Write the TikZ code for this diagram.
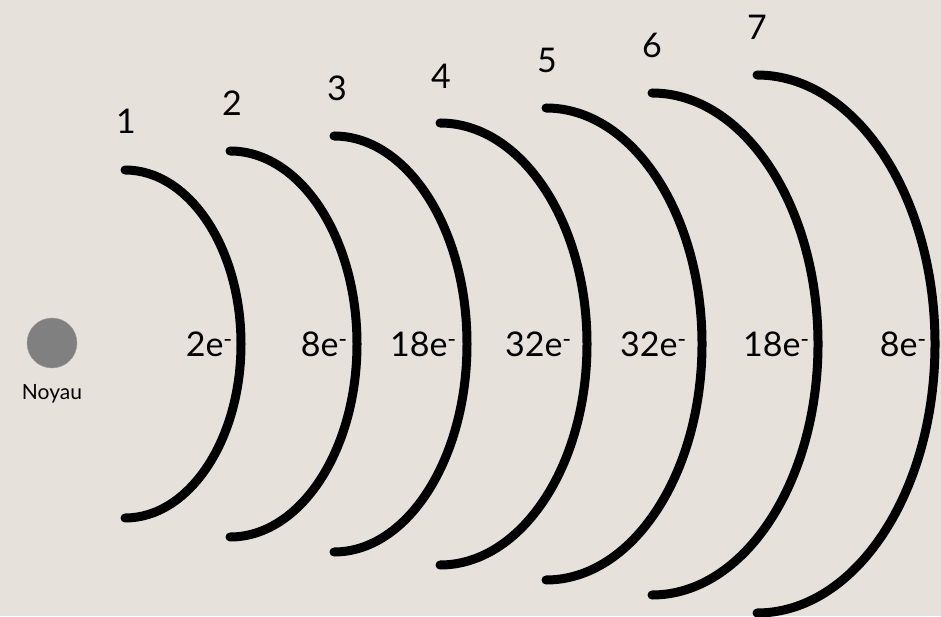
\documentclass[tikz,border=0pt]{standalone}
\usepackage{fontspec}
\setmainfont{Lato}
\usepackage{tikz}
\usepackage{xcolor}
\definecolor{fond}{HTML}{E6E2DB}
\definecolor{noyaugris}{HTML}{808080}

\begin{document}
\begin{tikzpicture}[x=1pt,y=1pt,
  couche/.style={line width=9pt,line cap=round,black},
  num/.style={font=\fontsize{34}{39}\selectfont},
  elec/.style={font=\fontsize{34}{39}\selectfont,anchor=east,inner sep=0pt}]
\fill[fond](0,0)rectangle(941,616);
\useasboundingbox(0,0)rectangle(941,616);
\node[circle,fill=noyaugris,draw=noyaugris!80!white,minimum size=50pt,inner sep=0pt](noyau)at(52,273){};
\node[font=\fontsize{21}{25}\selectfont](nom)at(52,222){Noyau};
\draw[couche](125,446)arc[start angle=90,end angle=-90,x radius=116pt,y radius=174pt];
\draw[couche](230,465)arc[start angle=90,end angle=-90,x radius=127pt,y radius=193pt];
\draw[couche](334,480)arc[start angle=90,end angle=-90,x radius=133pt,y radius=208pt];
\draw[couche](440,493)arc[start angle=90,end angle=-90,x radius=147pt,y radius=221pt];
\draw[couche](546,508)arc[start angle=90,end angle=-90,x radius=156pt,y radius=236pt];
\draw[couche](652,523)arc[start angle=90,end angle=-90,x radius=166pt,y radius=251pt];
\draw[couche](757,541)arc[start angle=90,end angle=-90,x radius=178pt,y radius=269pt];
\node[num](n1)at(126,495){1};
\node[num](n2)at(232,513){2};
\node[num](n3)at(337,528){3};
\node[num](n4)at(441,540){4};
\node[num](n5)at(547,556){5};
\node[num](n6)at(652,571){6};
\node[num](n7)at(757,589){7};
\node[elec](e1)at(233,272){2e\textsuperscript{-}};
\node[elec](e2)at(348,272){8e\textsuperscript{-}};
\node[elec](e3)at(457,272){18e\textsuperscript{-}};
\node[elec](e4)at(572,272){32e\textsuperscript{-}};
\node[elec](e5)at(687,272){32e\textsuperscript{-}};
\node[elec](e6)at(810,272){18e\textsuperscript{-}};
\node[elec](e7)at(927,272){8e\textsuperscript{-}};
\end{tikzpicture}
\end{document}
